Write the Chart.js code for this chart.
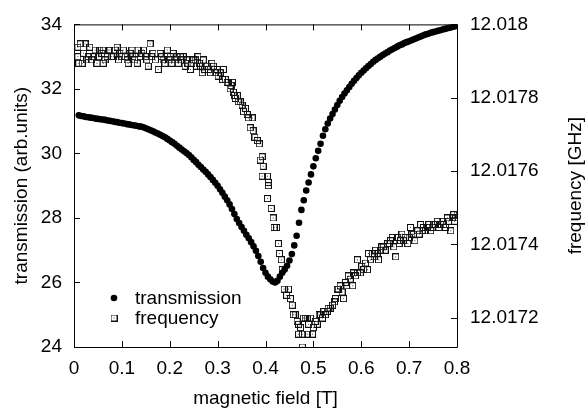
<!DOCTYPE html>
<html>
<head>
<meta charset="utf-8">
<title>transmission and frequency vs magnetic field</title>
<script src="https://cdn.jsdelivr.net/npm/chart.js@4/dist/chart.umd.min.js"></script>
<style>
  html, body { margin: 0; padding: 0; background: #fff; }
  canvas { display: block; }
</style>
</head>
<body>
<canvas id="chart" width="587" height="415"></canvas>
<script>
// transmission (filled circles, left axis)
const fieldT = [
  0.010, 0.015, 0.020, 0.025, 0.030, 0.035, 0.040, 0.045, 0.050, 0.055,
  0.060, 0.065, 0.070, 0.075, 0.080, 0.085, 0.090, 0.095, 0.100, 0.105,
  0.110, 0.115, 0.120, 0.125, 0.130, 0.135, 0.140, 0.145, 0.150, 0.155,
  0.160, 0.165, 0.170, 0.175, 0.180, 0.185, 0.190, 0.195, 0.200, 0.205,
  0.210, 0.215, 0.220, 0.225, 0.230, 0.235, 0.240, 0.245, 0.250, 0.255,
  0.260, 0.265, 0.270, 0.275, 0.280, 0.285, 0.290, 0.295, 0.300, 0.305,
  0.310, 0.315, 0.320, 0.325, 0.330, 0.335, 0.340, 0.345, 0.350, 0.355,
  0.360, 0.365, 0.370, 0.375, 0.380, 0.385, 0.390, 0.395, 0.400, 0.405,
  0.410, 0.415, 0.420, 0.425, 0.430, 0.435, 0.440, 0.445, 0.450, 0.455,
  0.460, 0.465, 0.470, 0.475, 0.480, 0.485, 0.490, 0.495, 0.500, 0.505,
  0.510, 0.515, 0.520, 0.525, 0.530, 0.535, 0.540, 0.545, 0.550, 0.555,
  0.560, 0.565, 0.570, 0.575, 0.580, 0.585, 0.590, 0.595, 0.600, 0.605,
  0.610, 0.615, 0.620, 0.625, 0.630, 0.635, 0.640, 0.645, 0.650, 0.655,
  0.660, 0.665, 0.670, 0.675, 0.680, 0.685, 0.690, 0.695, 0.700, 0.705,
  0.710, 0.715, 0.720, 0.725, 0.730, 0.735, 0.740, 0.745, 0.750, 0.755,
  0.760, 0.765, 0.770, 0.775, 0.780, 0.785, 0.790, 0.795, 0.800
];
const transT = [
  31.18, 31.16, 31.15, 31.13, 31.12, 31.11, 31.10, 31.08, 31.07, 31.06,
  31.05, 31.04, 31.02, 31.01, 31.00, 30.98, 30.97, 30.95, 30.94, 30.93,
  30.91, 30.90, 30.88, 30.87, 30.86, 30.84, 30.83, 30.81, 30.78, 30.75,
  30.72, 30.69, 30.65, 30.62, 30.58, 30.54, 30.50, 30.45, 30.40, 30.35,
  30.30, 30.24, 30.18, 30.12, 30.07, 30.01, 29.95, 29.88, 29.80, 29.73,
  29.65, 29.58, 29.50, 29.43, 29.35, 29.27, 29.18, 29.09, 29.00, 28.89,
  28.78, 28.66, 28.55, 28.42, 28.28, 28.12, 27.97, 27.84, 27.72, 27.60,
  27.48, 27.37, 27.25, 27.12, 26.98, 26.82, 26.64, 26.45, 26.30, 26.18,
  26.10, 26.03, 26.00, 26.05, 26.18, 26.30, 26.40, 26.52, 26.68, 26.88,
  27.15, 27.45, 27.85, 28.25, 28.55, 28.85, 29.10, 29.35, 29.60, 29.85,
  30.08, 30.30, 30.55, 30.75, 30.93, 31.08, 31.22, 31.36, 31.50, 31.63,
  31.75, 31.86, 31.96, 32.06, 32.16, 32.25, 32.34, 32.42, 32.50, 32.57,
  32.64, 32.71, 32.77, 32.84, 32.90, 32.95, 33.00, 33.05, 33.10, 33.14,
  33.19, 33.23, 33.27, 33.31, 33.35, 33.38, 33.42, 33.45, 33.48, 33.51,
  33.54, 33.57, 33.60, 33.63, 33.66, 33.69, 33.71, 33.74, 33.76, 33.78,
  33.80, 33.82, 33.84, 33.86, 33.88, 33.90, 33.92, 33.94, 33.97
];

// frequency (open squares, right axis, GHz)
const fieldF = [
  0.008, 0.008, 0.010, 0.013, 0.017, 0.020, 0.023, 0.027, 0.030, 0.033,
  0.037, 0.040, 0.044, 0.048, 0.051, 0.054, 0.058, 0.061, 0.061, 0.065,
  0.069, 0.072, 0.075, 0.078, 0.082, 0.086, 0.090, 0.093, 0.096, 0.100,
  0.103, 0.107, 0.111, 0.113, 0.117, 0.121, 0.123, 0.127, 0.132, 0.134,
  0.138, 0.142, 0.145, 0.149, 0.152, 0.155, 0.159, 0.162, 0.165, 0.170,
  0.176, 0.180, 0.183, 0.186, 0.190, 0.195, 0.198, 0.201, 0.204, 0.207,
  0.211, 0.215, 0.218, 0.222, 0.225, 0.228, 0.232, 0.235, 0.238, 0.243,
  0.246, 0.250, 0.253, 0.256, 0.259, 0.262, 0.264, 0.268, 0.270, 0.273,
  0.278, 0.281, 0.285, 0.288, 0.291, 0.295, 0.299, 0.301, 0.305, 0.310,
  0.312, 0.316, 0.320, 0.322, 0.326, 0.328, 0.331, 0.333, 0.335, 0.337,
  0.341, 0.343, 0.347, 0.351, 0.354, 0.358, 0.362, 0.364, 0.368, 0.372,
  0.374, 0.378, 0.383, 0.387, 0.389, 0.393, 0.395, 0.393, 0.404, 0.406,
  0.406, 0.404, 0.412, 0.416, 0.418, 0.423, 0.427, 0.429, 0.433, 0.435,
  0.439, 0.444, 0.448, 0.452, 0.456, 0.458, 0.462, 0.466, 0.469, 0.469,
  0.473, 0.477, 0.477, 0.479, 0.483, 0.487, 0.487, 0.490, 0.494, 0.498,
  0.500, 0.504, 0.508, 0.512, 0.515, 0.519, 0.522, 0.525, 0.529, 0.531,
  0.535, 0.540, 0.544, 0.546, 0.550, 0.552, 0.556, 0.560, 0.563, 0.567,
  0.570, 0.573, 0.577, 0.582, 0.584, 0.588, 0.592, 0.592, 0.598, 0.601,
  0.605, 0.609, 0.613, 0.615, 0.619, 0.623, 0.627, 0.630, 0.633, 0.636,
  0.640, 0.643, 0.646, 0.650, 0.655, 0.658, 0.661, 0.665, 0.668, 0.672,
  0.676, 0.679, 0.682, 0.685, 0.688, 0.692, 0.697, 0.700, 0.703, 0.706,
  0.709, 0.712, 0.718, 0.721, 0.724, 0.727, 0.730, 0.734, 0.738, 0.741,
  0.745, 0.748, 0.751, 0.755, 0.759, 0.762, 0.766, 0.769, 0.772, 0.776,
  0.780, 0.783, 0.787, 0.790, 0.793, 0.795, 0.797, 0.800
];
const freqF = [
  12.017938, 12.017912, 12.017894, 12.017947, 12.017894, 12.017921, 12.017947, 12.017903, 12.017912, 12.017938,
  12.017903, 12.017912, 12.017930, 12.017894, 12.017912, 12.017930, 12.017921, 12.017930, 12.017894, 12.017903,
  12.017912, 12.017930, 12.017930, 12.017912, 12.017912, 12.017930, 12.017938, 12.017903, 12.017921, 12.017912,
  12.017930, 12.017912, 12.017903, 12.017894, 12.017921, 12.017930, 12.017912, 12.017903, 12.017894, 12.017930,
  12.017912, 12.017921, 12.017930, 12.017912, 12.017903, 12.017886, 12.017947, 12.017912, 12.017921, 12.017903,
  12.017877, 12.017921, 12.017912, 12.017903, 12.017894, 12.017930, 12.017903, 12.017912, 12.017894, 12.017921,
  12.017903, 12.017912, 12.017894, 12.017912, 12.017903, 12.017912, 12.017886, 12.017903, 12.017894, 12.017877,
  12.017894, 12.017903, 12.017903, 12.017886, 12.017912, 12.017894, 12.017886, 12.017868, 12.017903, 12.017877,
  12.017886, 12.017877, 12.017868, 12.017894, 12.017886, 12.017868, 12.017877, 12.017859, 12.017868, 12.017850,
  12.017877, 12.017850, 12.017842, 12.017842, 12.017824, 12.017833, 12.017842, 12.017815, 12.017806, 12.017798,
  12.017806, 12.017789, 12.017789, 12.017780, 12.017762, 12.017771, 12.017754, 12.017745, 12.017718, 12.017745,
  12.017710, 12.017692, 12.017683, 12.017674, 12.017630, 12.017639, 12.017613, 12.017586, 12.017586, 12.017569,
  12.017560, 12.017525, 12.017498, 12.017472, 12.017446, 12.017446, 12.017402, 12.017375, 12.017358, 12.017331,
  12.017278, 12.017261, 12.017278, 12.017252, 12.017234, 12.017208, 12.017208, 12.017190, 12.017182, 12.017155,
  12.017173, 12.017155, 12.017120, 12.017199, 12.017199, 12.017155, 12.017199, 12.017182, 12.017199, 12.017155,
  12.017173, 12.017190, 12.017182, 12.017208, 12.017208, 12.017199, 12.017217, 12.017208, 12.017217, 12.017226,
  12.017226, 12.017234, 12.017243, 12.017252, 12.017278, 12.017278, 12.017287, 12.017270, 12.017252, 12.017296,
  12.017287, 12.017314, 12.017305, 12.017287, 12.017322, 12.017314, 12.017322, 12.017358, 12.017322, 12.017340,
  12.017331, 12.017349, 12.017331, 12.017375, 12.017358, 12.017375, 12.017366, 12.017384, 12.017375, 12.017358,
  12.017384, 12.017393, 12.017393, 12.017384, 12.017402, 12.017402, 12.017410, 12.017419, 12.017393, 12.017366,
  12.017419, 12.017402, 12.017410, 12.017428, 12.017410, 12.017419, 12.017402, 12.017419, 12.017446, 12.017428,
  12.017428, 12.017410, 12.017437, 12.017428, 12.017454, 12.017437, 12.017446, 12.017437, 12.017446, 12.017454,
  12.017437, 12.017446, 12.017454, 12.017454, 12.017463, 12.017446, 12.017454, 12.017463, 12.017454, 12.017446,
  12.017472, 12.017463, 12.017437, 12.017472, 12.017481, 12.017463, 12.017472, 12.017481
];

// tick positions
const fieldTicks = [0, 0.1, 0.2, 0.3, 0.4, 0.5, 0.6, 0.7, 0.8];
const transTicks = [24, 26, 28, 30, 32, 34];
const freqTicks = [12.0172, 12.0174, 12.0176, 12.0178, 12.018];

const FONT = 'Liberation Sans, Arial, Helvetica, sans-serif';
const rightTitle = 'frequency [GHz]';

Chart.defaults.color = '#000';
Chart.defaults.font.family = FONT;
Chart.defaults.font.size = 19;

// open square with a dot in the middle, like the gnuplot marker
function squareMarker() {
    const c = document.createElement('canvas');
    c.width = 7;
    c.height = 7;
    const g = c.getContext('2d');
    g.strokeStyle = '#111';
    g.lineWidth = 1;
    g.strokeRect(0.5, 0.5, 6, 6);
    g.fillStyle = '#444';
    g.fillRect(3, 3, 1, 1);
    return c;
}
const squareImg = squareMarker();

// box around the plot + inward tick marks
const framePlugin = {
    id: 'frame',
    beforeDatasetsDraw(chart) {
        const { ctx, chartArea: a, scales } = chart;
        const len = 6;
        ctx.save();
        ctx.strokeStyle = '#000';
        ctx.lineWidth = 1;
        ctx.beginPath();
        ctx.rect(a.left + 0.5, a.top + 0.5, a.right - a.left, a.bottom - a.top);
        fieldTicks.forEach(t => {
            const px = Math.round(scales.x.getPixelForValue(t)) + 0.5;
            ctx.moveTo(px, a.bottom); ctx.lineTo(px, a.bottom - len);
            ctx.moveTo(px, a.top); ctx.lineTo(px, a.top + len);
        });
        transTicks.forEach(t => {
            const py = Math.round(scales.y.getPixelForValue(t)) + 0.5;
            ctx.moveTo(a.left, py); ctx.lineTo(a.left + len, py);
        });
        freqTicks.forEach(t => {
            const py = Math.round(scales.y1.getPixelForValue(t)) + 0.5;
            ctx.moveTo(a.right, py); ctx.lineTo(a.right - len, py);
        });
        ctx.stroke();
        ctx.restore();
    },
    afterDraw(chart) {
        // right axis title reads bottom-to-top like the left one
        const { ctx, chartArea: a } = chart;
        ctx.save();
        ctx.fillStyle = '#000';
        ctx.font = '19px ' + FONT;
        ctx.textAlign = 'center';
        ctx.textBaseline = 'middle';
        ctx.translate(576, (a.top + a.bottom) / 2);
        ctx.rotate(-Math.PI / 2);
        ctx.fillText(rightTitle, 0, 0);
        ctx.restore();
    }
};

// legend inside the plot, bottom left
const keyPlugin = {
    id: 'key',
    afterDatasetsDraw(chart) {
        const { ctx, chartArea: a } = chart;
        ctx.save();
        ctx.font = '19px ' + FONT;
        ctx.textBaseline = 'middle';
        chart.data.datasets.forEach((ds, i) => {
            const y = a.bottom - 49 + i * 20;
            const x = a.left + 40;
            ctx.fillStyle = ds.backgroundColor;
            ctx.strokeStyle = ds.borderColor;
            Chart.helpers.drawPoint(ctx, {
                pointStyle: ds.pointStyle,
                radius: ds.pointRadius,
                borderWidth: ds.borderWidth
            }, x, y);
            ctx.fillStyle = '#000';
            ctx.fillText(ds.label, a.left + 61, y + 1);
        });
        ctx.restore();
    }
};

const ctx = document.getElementById('chart').getContext('2d');
new Chart(ctx, {
    type: 'scatter',
    data: {
        datasets: [{
            label: 'transmission',
            data: fieldT.map((x, i) => ({ x, y: transT[i] })),
            yAxisID: 'y',
            pointStyle: 'circle',
            pointRadius: 3.3,
            borderWidth: 0,
            backgroundColor: '#000',
            borderColor: '#000'
        }, {
            label: 'frequency',
            data: fieldF.map((x, i) => ({ x, y: freqF[i] })),
            yAxisID: 'y1',
            pointStyle: squareImg,
            pointRadius: 3.5,
            borderWidth: 1,
            backgroundColor: 'rgba(0,0,0,0)',
            borderColor: '#111'
        }]
    },
    options: {
        responsive: false,
        animation: false,
        devicePixelRatio: 1,
        layout: { padding: { top: 14, left: 0, right: 0, bottom: 0 } },
        plugins: {
            legend: { display: false },
            tooltip: { enabled: false }
        },
        scales: {
            x: {
                type: 'linear',
                min: 0,
                max: 0.8,
                afterBuildTicks: s => { s.ticks = fieldTicks.map(v => ({ value: v })); },
                afterFit: s => { s.height = 68; },
                grid: { display: false, drawTicks: false },
                border: { display: false },
                ticks: { padding: 10, maxRotation: 0, callback: v => String(+v.toFixed(1)) },
                title: { display: true, text: 'magnetic field [T]', padding: { top: 0, bottom: 5 } }
            },
            y: {
                position: 'left',
                min: 24,
                max: 34,
                afterBuildTicks: s => { s.ticks = transTicks.map(v => ({ value: v })); },
                afterFit: s => { s.width = 74; },
                grid: { display: false, drawTicks: false },
                border: { display: false },
                ticks: { padding: 12 },
                title: { display: true, text: 'transmission (arb.units)', padding: { top: 10, bottom: 0 } }
            },
            y1: {
                position: 'right',
                min: 12.01712,
                max: 12.018,
                afterBuildTicks: s => { s.ticks = freqTicks.map(v => ({ value: v })); },
                afterFit: s => { s.width = 130; },
                grid: { display: false, drawTicks: false },
                border: { display: false },
                ticks: { padding: 13, callback: v => String(+v.toFixed(4)) }
            }
        }
    },
    plugins: [framePlugin, keyPlugin]
});
</script>
</body>
</html>
